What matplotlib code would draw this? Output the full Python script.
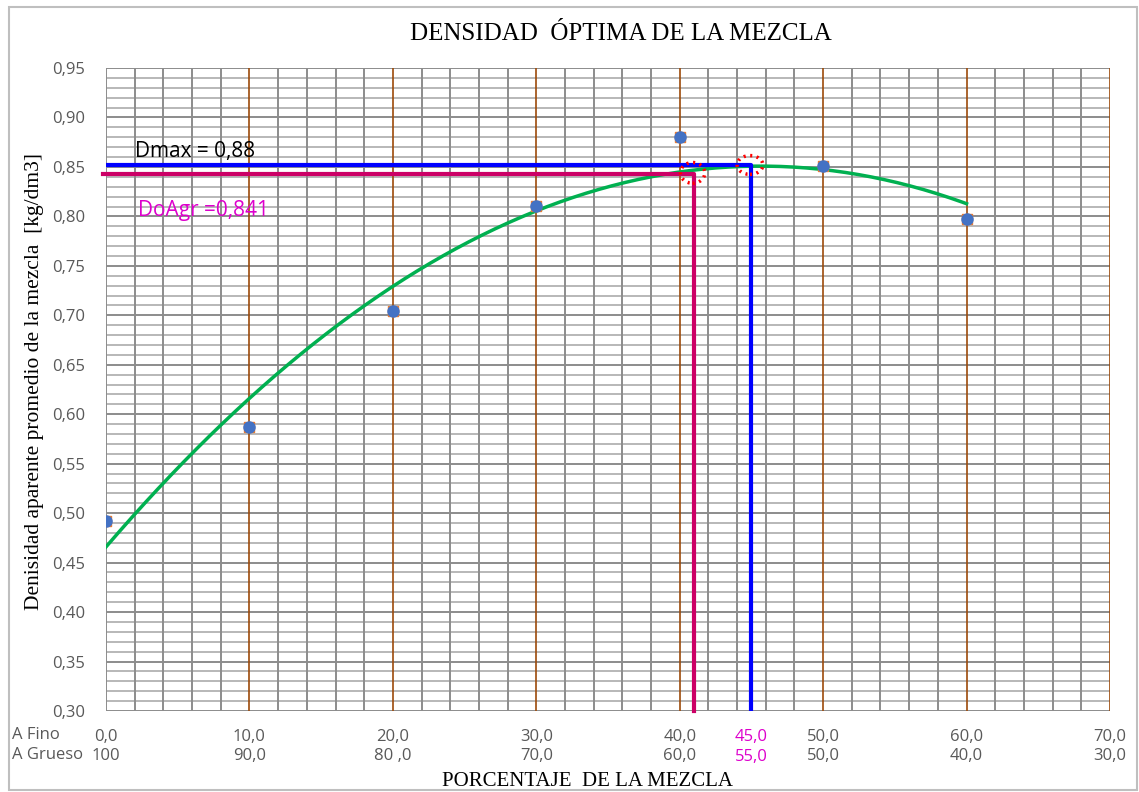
import numpy as np
import matplotlib
matplotlib.use("Agg")
import matplotlib.pyplot as plt
from matplotlib.patches import Ellipse, Rectangle
from matplotlib.transforms import blended_transform_factory

# --- datos ---
fino = [0, 10, 20, 30, 40, 50, 60]
densidad = [0.492, 0.587, 0.704, 0.811, 0.880, 0.851, 0.797]

x_ticks = [0, 10, 20, 30, 40, 50, 60, 70]
fino_labels = ["0,0", "10,0", "20,0", "30,0", "40,0", "50,0", "60,0", "70,0"]
grueso_labels = ["100", "90,0", "80 ,0", "70,0", "60,0", "50,0", "40,0", "30,0"]

d_max = 0.852
x_max = 45.0
d_agr = 0.843
x_agr = 41.0

GRIS = "#595959"
SERIF = "Liberation Serif"
SANS = "Open Sans"

fig = plt.figure(figsize=(11.39, 7.92), dpi=100)
ax = fig.add_axes([0.0931, 0.1023, 0.8814, 0.8118])

# borde de la figura
fig.patches.append(Rectangle((9 / 1139, 0.002), 1128 / 1139, 0.989, transform=fig.transFigure,
                             fill=False, edgecolor="#bfbfbf", lw=1.5))

ax.set_xlim(0, 70)
ax.set_ylim(0.30, 0.95)

# cuadricula
for yv in np.arange(0.30, 0.951, 0.01):
    mayor = abs(round(yv * 100) % 5) == 0
    ax.axhline(yv, color="#8c8c8c" if mayor else "#b8b8b8", lw=1.4, zorder=1)
for xv in range(0, 71, 2):
    if xv % 10 == 0 and xv > 0:
        ax.axvline(xv, color="#9c4a0a", lw=1.2, zorder=1.5)
    else:
        ax.axvline(xv, color="#8c8c8c", lw=1.4, zorder=1)

for s in ax.spines.values():
    s.set_visible(False)
ax.set_xticks([])
ax.set_yticks(np.arange(0.30, 0.951, 0.05))
ax.set_yticklabels([f"{v:.2f}".replace(".", ",") for v in np.arange(0.30, 0.951, 0.05)],
                   fontsize=12, color=GRIS, family=SANS)
ax.tick_params(axis="y", length=0, pad=15)

# linea de tendencia (polinomica de orden 2)
coef = np.polyfit(fino, densidad, 2)
xt = np.linspace(0, 60, 200)
ax.plot(xt, np.polyval(coef, xt), color="#00b050", lw=2.5, zorder=3)

# lineas de Dmax y DoAgr
ax.plot([0, x_max, x_max], [d_max, d_max, 0.30], color="#0000ff", lw=3, zorder=4)
ax.plot([-0.2, x_agr, x_agr], [d_agr, d_agr, 0.30], color="#cc0066", lw=3, zorder=4, clip_on=False)

# puntos
ax.scatter(fino, densidad, marker="s", s=58, color="#ed7d31", zorder=5)
ax.scatter(fino, densidad, marker="o", s=64, color="#4472c4", zorder=6)

# circulos punteados
ax.add_patch(Ellipse((40.9, 0.844), 1.7, 0.021, fill=False, edgecolor="red", lw=2.5,
                     linestyle=(0, (0.6, 1.3)), zorder=7))
ax.add_patch(Ellipse((44.9, 0.852), 1.8, 0.019, fill=False, edgecolor="red", lw=2.5,
                     linestyle=(0, (0.6, 1.3)), zorder=7))

ax.text(2.0, 0.866, "Dmax = 0,88", fontsize=15, color="black", family=SANS, va="center", zorder=8)
ax.text(2.2, 0.806, "DoAgr =0,841", fontsize=15, color="#dd00cc", family=SANS, va="center", zorder=8)

# etiquetas del eje x en dos filas
tr = blended_transform_factory(ax.transData, fig.transFigure)
for xv, a, b in zip(x_ticks, fino_labels, grueso_labels):
    ax.text(xv, 1 - 737 / 792, a, transform=tr, ha="center", va="center", fontsize=12, color=GRIS, family=SANS)
    ax.text(xv, 1 - 756 / 792, b, transform=tr, ha="center", va="center", fontsize=12, color=GRIS, family=SANS)
ax.text(x_max, 1 - 737 / 792, "45,0", transform=tr, ha="center", va="center", fontsize=12, color="#dd00cc", family=SANS)
ax.text(x_max, 1 - 757 / 792, "55,0", transform=tr, ha="center", va="center", fontsize=12, color="#dd00cc", family=SANS)
fig.text(12 / 1139, 1 - 735 / 792, "A Fino", ha="left", va="center", fontsize=12, color=GRIS, family=SANS)
fig.text(12 / 1139, 1 - 755 / 792, "A Grueso", ha="left", va="center", fontsize=12, color=GRIS, family=SANS)

fig.text(621 / 1139, 1 - 34 / 792, "DENSIDAD  ÓPTIMA DE LA MEZCLA", ha="center", va="center",
         fontsize=18, family=SERIF)
fig.text(587 / 1139, 1 - 781 / 792, "PORCENTAJE  DE LA MEZCLA", ha="center", va="center",
         fontsize=15, family=SERIF)
fig.text(35 / 1139, 1 - 381 / 792, "Denisidad aparente promedio de la mezcla  [kg/dm3]", ha="center",
         va="center", rotation=90, fontsize=15.5, family=SERIF)

fig.savefig("out.png", dpi=100)
